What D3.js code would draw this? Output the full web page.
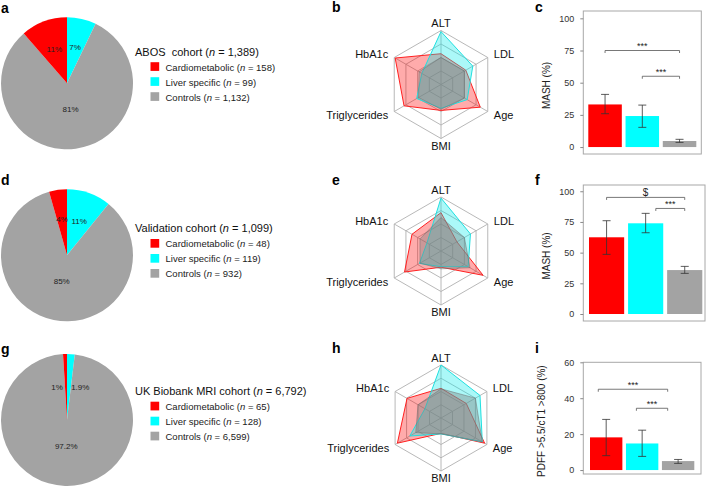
<!DOCTYPE html>
<html><head><meta charset="utf-8">
<script src="https://cdn.jsdelivr.net/npm/d3@7"></script>
<style>body{margin:0;background:#fff}svg{font-family:"Liberation Sans",Arial,sans-serif}</style>
</head><body><svg id="chart" width="709" height="487"></svg>
<script>
// ---------- data ----------
const groups = ["Cardiometabolic", "Liver specific", "Controls"];
const groupColors = ["#ff0000", "#00ffff", "#a3a3a3"];

const cohortNames = ["ABOS  cohort", "Validation cohort", "UK Biobank MRI cohort"];
const cohortTotals = ["1,389", "1,099", "6,792"];

const abosCounts = [158, 99, 1132];
const validationCounts = [48, 119, 932];
const ukbCounts = [65, 128, 6599];

const abosCountLabels = ["158", "99", "1,132"];
const validationCountLabels = ["48", "119", "932"];
const ukbCountLabels = ["65", "128", "6,599"];

const abosPctLabels = ["11%", "7%", "81%"];
const validationPctLabels = ["4%", "11%", "85%"];
const ukbPctLabels = ["1%", "1.9%", "97.2%"];

const radarAxes = ["ALT", "LDL", "Age", "BMI", "Triglycerides", "HbA1c"];
// normalized profile (0..1 of outer ring)
const abosCardio = [0.57, 0.53, 0.84, 0.48, 0.79, 0.98];
const abosLiver = [0.98, 0.68, 0.56, 0.44, 0.52, 0.41];
const abosControls = [0.50, 0.50, 0.50, 0.46, 0.48, 0.47];
const valCardio = [0.71, 0.34, 0.90, 0.30, 0.78, 0.62];
const valLiver = [0.98, 0.63, 0.58, 0.29, 0.46, 0.30];
const valControls = [0.62, 0.50, 0.62, 0.33, 0.45, 0.45];
const ukbCardio = [0.56, 0.55, 0.95, 0.29, 0.95, 0.74];
const ukbLiver = [1.00, 0.85, 0.90, 0.30, 0.68, 0.35];
const ukbControls = [0.55, 0.75, 0.90, 0.30, 0.55, 0.50];

const abosMash = [33.1, 24.1, 4.7];
const abosMashLow = [25.9, 15.3, 3.6];
const abosMashHigh = [40.9, 32.6, 6.0];
const valMash = [62.5, 73.9, 35.8];
const valMashLow = [48.6, 66.2, 33.1];
const valMashHigh = [76.0, 82.0, 38.8];
const ukbPdff = [18.2, 14.8, 5.0];
const ukbPdffLow = [8.0, 7.6, 3.7];
const ukbPdffHigh = [28.2, 22.2, 5.9];

const mashTicks = [0, 25, 50, 75, 100];
const pdffTicks = [0, 20, 40, 60];

// brackets: from/to in category index units
const abosBrackets = [{from: 0, to: 2, y: 75, label: "***"}, {from: 1, to: 2, y: 55, label: "***"}];
const valBrackets = [{from: 0, to: 2, y: 95, label: "$"}, {from: 1.26, to: 2, y: 86, label: "***"}];
const ukbBrackets = [{from: -0.22, to: 1.71, y: 45, label: "***"}, {from: 0.84, to: 1.71, y: 34.4, label: "***"}];

// ---------- drawing ----------
const svg = d3.select("#chart");

function letter(t, x, y) {
  svg.append("text").attr("x", x).attr("y", y).attr("font-size", 14).attr("font-weight", "bold")
    .attr("fill", "#000").text(t);
}

function pie(cx, cy, r, counts, pctLabels, countLabels, name, total, legY) {
  const order = [1, 2, 0]; // liver, controls, cardio clockwise from top
  const p = d3.pie().sort(null).value(i => counts[i])(order);
  const arc = d3.arc().innerRadius(0).outerRadius(r);
  const g = svg.append("g").attr("transform", `translate(${cx},${cy})`);
  g.selectAll("path").data(p).join("path").attr("d", arc).attr("fill", d => groupColors[d.data]);
  const labSmall = d3.arc().innerRadius(0).outerRadius(r * 1.1);
  const labBig = d3.arc().innerRadius(0).outerRadius(r * 0.8);
  const frac = d => (d.endAngle - d.startAngle) / (2 * Math.PI);
  g.selectAll("text").data(p).join("text")
    .attr("transform", d => { const c = (frac(d) > 0.5 ? labBig : labSmall).centroid(d); return `translate(${c[0]},${c[1]})`; })
    .attr("text-anchor", d => {
      if (frac(d) < 0.03) return d.data === 0 ? "end" : "start";
      return "middle";
    })
    .attr("dx", d => (frac(d) < 0.03 ? (d.data === 0 ? -3 : 2) : 0))
    .attr("dy", d => (frac(d) < 0.03 ? 4 : 0))
    .attr("dominant-baseline", "central").attr("font-size", 8).attr("fill", "#222")
    .text(d => pctLabels[d.data]);
  // legend
  const lx = 135;
  const t = svg.append("text").attr("x", lx).attr("y", legY).attr("font-size", 11)
    .attr("dominant-baseline", "central").attr("fill", "#111").style("white-space", "pre");
  t.append("tspan").text(name + " (");
  t.append("tspan").attr("font-style", "italic").text("n");
  t.append("tspan").text(" = " + total + ")");
  groups.forEach((gname, i) => {
    const y = legY + 15 * (i + 1);
    svg.append("rect").attr("x", lx + 15.5).attr("y", y - 4.3).attr("width", 8.7).attr("height", 8.7)
      .attr("fill", groupColors[i]);
    const tt = svg.append("text").attr("x", lx + 30.5).attr("y", y).attr("font-size", 9.5)
      .attr("dominant-baseline", "central").attr("fill", "#222");
    tt.append("tspan").text(gname + " (");
    tt.append("tspan").attr("font-style", "italic").text("n");
    tt.append("tspan").text(" = " + countLabels[i] + ")");
  });
}

function radar(cx, cy, R, cardio, liver, controls) {
  const g = svg.append("g").attr("transform", `translate(${cx},${cy})`);
  const rs = d3.scaleLinear().domain([0, 1]).range([0, R]);
  const ang = i => -Math.PI / 2 + i * Math.PI / 3;
  const pt = (v, i) => [rs(v) * Math.cos(ang(i)), rs(v) * Math.sin(ang(i))];
  const line = d3.line().curve(d3.curveLinearClosed);
  [0.25, 0.5, 0.75, 1].forEach(l => {
    g.append("path").attr("d", line(radarAxes.map((a, i) => pt(l, i))))
      .attr("fill", "none").attr("stroke", "#b0b0b0").attr("stroke-width", 0.9);
  });
  radarAxes.forEach((a, i) => {
    const p = pt(1, i);
    g.append("line").attr("x1", 0).attr("y1", 0).attr("x2", p[0]).attr("y2", p[1])
      .attr("stroke", "#b0b0b0").attr("stroke-width", 0.9);
  });
  const series = [
    {v: cardio, fill: "rgba(255,0,0,0.33)", stroke: "#ff2020"},
    {v: liver, fill: "rgba(0,235,235,0.33)", stroke: "#20e0e0"},
    {v: controls, fill: "rgba(125,125,125,0.4)", stroke: "rgba(110,110,110,0.5)"}
  ];
  series.forEach(s => {
    g.append("path").attr("d", line(s.v.map((v, i) => pt(v, i))))
      .attr("fill", s.fill).attr("stroke", s.stroke).attr("stroke-width", 1);
  });
  radarAxes.forEach((a, i) => {
    const p = pt(1.13, i);
    const c = Math.cos(ang(i));
    g.append("text").attr("x", p[0]).attr("y", p[1])
      .attr("text-anchor", Math.abs(c) < 0.1 ? "middle" : (c > 0 ? "start" : "end"))
      .attr("dominant-baseline", "central").attr("font-size", 11).attr("fill", "#111").text(a);
  });
}

function bars(box, yDomain, ticks, vals, lo, hi, brackets, ylabel, ylabelX, barRange) {
  const [x0, y0, x1, y1] = box;
  const x = d3.scaleBand().domain([0, 1, 2]).range(barRange).paddingInner(0.1).paddingOuter(0);
  const y = d3.scaleLinear().domain(yDomain).range([y1, y0]);
  const step = x.step(), bw = x.bandwidth();
  const cxAt = k => x(0) + bw / 2 + k * step;
  svg.append("rect").attr("x", x0).attr("y", y0).attr("width", x1 - x0).attr("height", y1 - y0)
    .attr("fill", "none").attr("stroke", "#a8a8a8").attr("stroke-width", 1);
  const ax = svg.append("g").attr("transform", `translate(${x0},0)`)
    .call(d3.axisLeft(y).tickValues(ticks).tickSize(3).tickPadding(6));
  ax.select(".domain").remove();
  ax.selectAll("line").attr("stroke", "#888");
  ax.selectAll("text").attr("font-size", 9).attr("fill", "#333").attr("font-family", "Liberation Sans, Arial, sans-serif");
  svg.selectAll(null).data(vals).join("rect")
    .attr("x", (d, i) => x(i)).attr("width", bw)
    .attr("y", d => y(d)).attr("height", d => y(0) - y(d))
    .attr("fill", (d, i) => groupColors[i]);
  vals.forEach((v, i) => {
    const c = x(i) + bw / 2;
    const e = svg.append("g").attr("stroke", "#333").attr("stroke-width", 0.8);
    e.append("line").attr("x1", c).attr("x2", c).attr("y1", y(lo[i])).attr("y2", y(hi[i]));
    e.append("line").attr("x1", c - 4).attr("x2", c + 4).attr("y1", y(lo[i])).attr("y2", y(lo[i]));
    e.append("line").attr("x1", c - 4).attr("x2", c + 4).attr("y1", y(hi[i])).attr("y2", y(hi[i]));
  });
  brackets.forEach(b => {
    const xa = cxAt(b.from), xb = cxAt(b.to), yy = y(b.y);
    svg.append("path").attr("d", `M${xa},${yy + 2.5}V${yy}H${xb}V${yy + 2.5}`)
      .attr("fill", "none").attr("stroke", "#555").attr("stroke-width", 0.8);
    svg.append("text").attr("x", (xa + xb) / 2).attr("y", yy - 1.5).attr("text-anchor", "middle")
      .attr("font-size", b.label === "$" ? 10 : 9).attr("fill", "#222").text(b.label);
  });
  svg.append("text").attr("transform", `translate(${ylabelX},${(y0 + y1) / 2 + 3}) rotate(-90)`)
    .attr("text-anchor", "middle").attr("dominant-baseline", "central").attr("font-size", 10)
    .attr("fill", "#222").text(ylabel);
}

// Row 1
letter("a", 1, 13);
pie(67, 83.3, 66, abosCounts, abosPctLabels, abosCountLabels, cohortNames[0], cohortTotals[0], 51.5);
letter("b", 332, 12);
radar(441, 84.5, 54, abosCardio, abosLiver, abosControls);
letter("c", 535, 12);
bars([583.3, 11, 701.3, 154], [-5.4, 105.7], mashTicks, abosMash, abosMashLow, abosMashHigh,
  abosBrackets, "MASH (%)", 546, [588.3, 696.3]);

// Row 2
letter("d", 1, 185);
pie(67, 255.3, 66, validationCounts, validationPctLabels, validationCountLabels, cohortNames[1], cohortTotals[1], 228.3);
letter("e", 332, 185);
radar(441, 251, 54, valCardio, valLiver, valControls);
letter("f", 535, 185);
bars([583.3, 185, 705, 321], [-5.7, 105.1], mashTicks, valMash, valMashLow, valMashHigh,
  valBrackets, "MASH (%)", 546, [589, 702.3]);

// Row 3
letter("g", 1, 354);
pie(67, 420, 66, ukbCounts, ukbPctLabels, ukbCountLabels, cohortNames[2], cohortTotals[2], 391);
letter("h", 332, 353);
radar(441, 418, 53, ukbCardio, ukbLiver, ukbControls);
letter("i", 535, 353);
bars([583.3, 362.3, 701, 474], [-2.2, 60], pdffTicks, ukbPdff, ukbPdffLow, ukbPdffHigh,
  ukbBrackets, "PDFF >5.5/cT1 >800 (%)", 541.7, [590, 694.3]);
</script></body></html>
